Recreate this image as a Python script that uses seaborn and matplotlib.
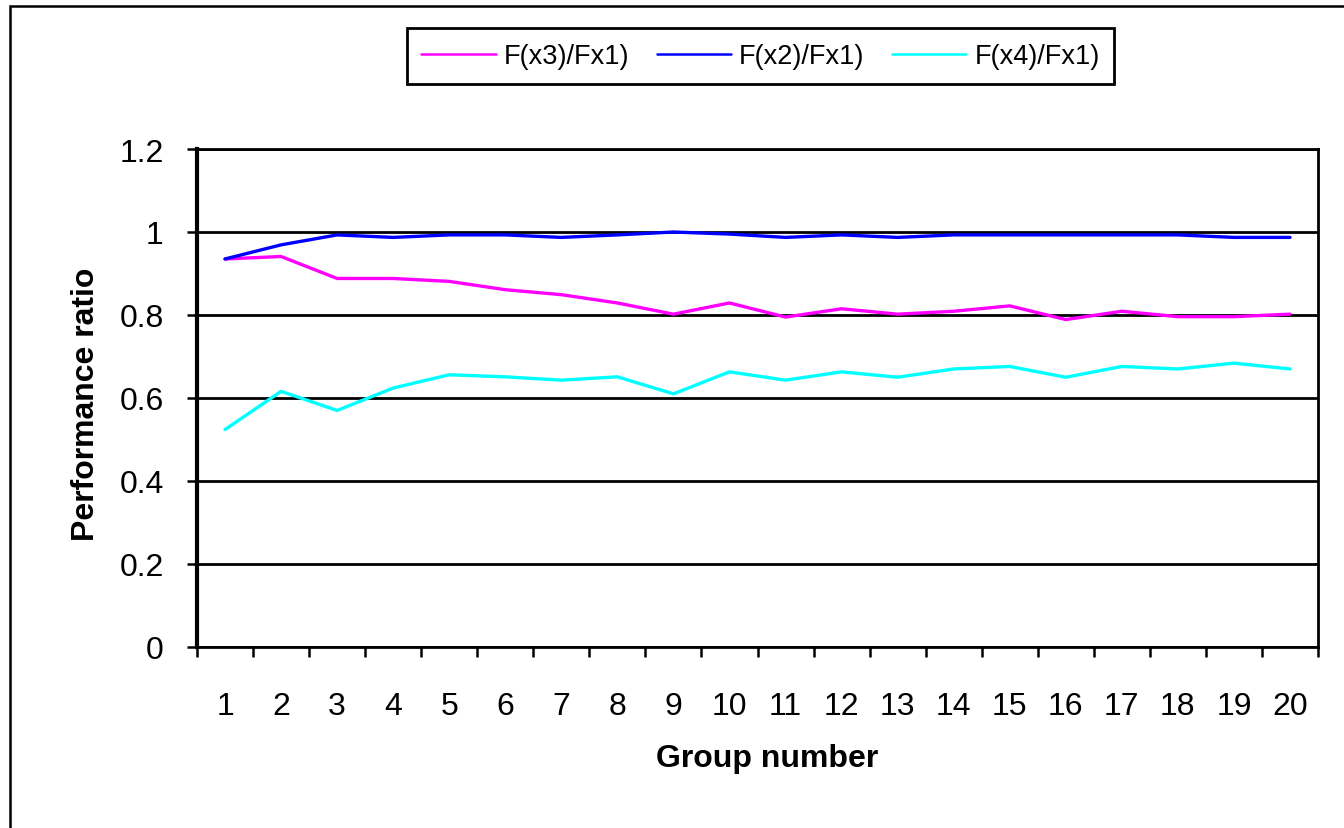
import matplotlib
matplotlib.use("Agg")
import matplotlib.pyplot as plt
from matplotlib.patches import Rectangle
import numpy as np
import pandas as pd
import seaborn as sns

# Group numbers on the x axis
groups = list(range(1, 21))

# Performance ratios per group
ratio_x3 = [0.935, 0.941, 0.888, 0.888, 0.881, 0.861, 0.849, 0.829, 0.802, 0.829,
            0.795, 0.815, 0.802, 0.809, 0.822, 0.789, 0.809, 0.796, 0.796, 0.802]
ratio_x2 = [0.935, 0.969, 0.993, 0.987, 0.993, 0.993, 0.987, 0.993, 1.000, 0.995,
            0.987, 0.993, 0.987, 0.993, 0.993, 0.993, 0.993, 0.993, 0.987, 0.987]
ratio_x4 = [0.524, 0.616, 0.570, 0.624, 0.656, 0.651, 0.643, 0.651, 0.610, 0.663,
            0.643, 0.663, 0.650, 0.670, 0.676, 0.650, 0.676, 0.670, 0.684, 0.670]

series_names = ["F(x3)/Fx1)", "F(x2)/Fx1)", "F(x4)/Fx1)"]
series_colors = ["#FF00FF", "#0000FF", "#00FFFF"]

y_ticks = [0, 0.2, 0.4, 0.6, 0.8, 1.0, 1.2]
y_tick_labels = ["0", "0.2", "0.4", "0.6", "0.8", "1", "1.2"]

df = pd.concat([
    pd.DataFrame({"group": groups, "ratio": vals, "series": name})
    for name, vals in zip(series_names, [ratio_x3, ratio_x2, ratio_x4])
], ignore_index=True)

sns.set_theme(style="white")
plt.rcParams["font.family"] = ["Liberation Sans", "DejaVu Sans"]
plt.rcParams["text.color"] = "black"
plt.rcParams["axes.labelcolor"] = "black"
plt.rcParams["xtick.color"] = "black"
plt.rcParams["ytick.color"] = "black"

W, H = 1344, 829
fig = plt.figure(figsize=(W / 100, H / 100), dpi=100)
ax = fig.add_axes([197 / W, 1 - 648 / H, (1318 - 197) / W, (648 - 150) / H])

sns.lineplot(data=df, x="group", y="ratio", hue="series", hue_order=series_names,
             palette=series_colors, linewidth=2.4, ax=ax, legend=True)

# Axes limits and ticks
ax.set_xlim(0.5, 20.5)
ax.set_ylim(0, 1.2)
ax.set_xticks(groups)
ax.set_xticklabels([str(g) for g in groups])
ax.set_xticks(np.arange(0.5, 21, 1.0), minor=True)
ax.set_yticks(y_ticks)
ax.set_yticklabels(y_tick_labels)
ax.tick_params(axis="x", which="major", bottom=True, length=0, pad=32, labelsize=23)
ax.tick_params(axis="x", which="minor", bottom=True, length=7, width=1.8, direction="out")
ax.tick_params(axis="y", which="major", left=True, length=7, width=1.8, direction="out",
               pad=17, labelsize=23)

# Horizontal gridlines
ax.yaxis.grid(True, color="black", linewidth=2.0)
ax.xaxis.grid(False)
ax.set_axisbelow(True)

for side, sp in ax.spines.items():
    sp.set_visible(True)
    sp.set_color("black")
    sp.set_linewidth(2.0)
ax.spines["left"].set_linewidth(3)

# Axis labels
ax.set_xlabel("Group number", fontsize=23, fontweight="bold")
ax.set_ylabel("Performance ratio", fontsize=23, fontweight="bold")
ax.xaxis.label.set_verticalalignment("center")
ax.xaxis.set_label_coords((767 - 197) / (1318 - 197), (648 - 759) / (648 - 150))
ax.yaxis.label.set_verticalalignment("center")
ax.yaxis.set_label_coords((86 - 197) / (1318 - 197), (648 - 404) / (648 - 150))

# Legend across the top
sns.move_legend(ax, loc="center", bbox_to_anchor=(760.5 / W, 1 - 57 / H),
                bbox_transform=fig.transFigure, ncol=3, title=None, frameon=True,
                fancybox=False, framealpha=1.0, fontsize=19.5, handlelength=2.75,
                columnspacing=1.0, handletextpad=0.3, borderpad=0.55)
leg = ax.get_legend()
leg.get_frame().set_edgecolor("black")
leg.get_frame().set_linewidth(2.0)
for line in leg.get_lines():
    line.set_linewidth(1.8)

# Outer chart frame
fig.patches.append(Rectangle((10 / W, -0.05), 1.1, 1 - 7 / H + 0.05,
                             transform=fig.transFigure, fill=False,
                             edgecolor="black", linewidth=1.8))

fig.savefig("out.png", dpi=100)
